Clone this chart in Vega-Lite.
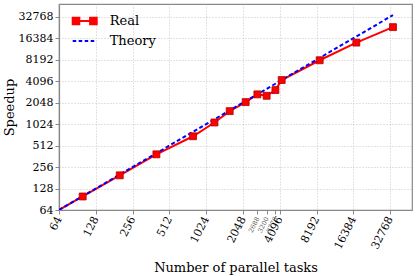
{
  "$schema": "https://vega.github.io/schema/vega-lite/v6.json",
  "autosize": "none",
  "width": 353,
  "height": 206,
  "padding": {"left": 59, "top": 4, "right": 4, "bottom": 66},
  "background": "white",
  "config": {
    "font": "DejaVu Serif",
    "view": {"stroke": "#888888", "strokeWidth": 1.2},
    "axis": {
      "domainColor": "#888888",
      "domainWidth": 1.2,
      "tickColor": "#888888",
      "tickSize": 4,
      "labelFont": "DejaVu Serif",
      "titleFont": "DejaVu Serif",
      "labelColor": "#000000",
      "titleColor": "#000000",
      "titleFontWeight": "normal",
      "gridColor": "#b8b8b8",
      "gridDash": [1, 2],
      "gridWidth": 0.8
    },
    "legend": {"labelFont": "DejaVu Serif"}
  },
  "data": {
    "values": [
      {"tasks": 64, "speedup": 64, "series": "Real"},
      {"tasks": 100, "speedup": 99, "series": "Real"},
      {"tasks": 201, "speedup": 196, "series": "Real"},
      {"tasks": 401, "speedup": 386, "series": "Real"},
      {"tasks": 800, "speedup": 692, "series": "Real"},
      {"tasks": 1197, "speedup": 1080, "series": "Real"},
      {"tasks": 1595, "speedup": 1557, "series": "Real"},
      {"tasks": 2156, "speedup": 2085, "series": "Real"},
      {"tasks": 2688, "speedup": 2676, "series": "Real"},
      {"tasks": 3200, "speedup": 2556, "series": "Real"},
      {"tasks": 3776, "speedup": 3076, "series": "Real"},
      {"tasks": 4250, "speedup": 4252, "series": "Real"},
      {"tasks": 8690, "speedup": 8050, "series": "Real"},
      {"tasks": 17340, "speedup": 14240, "series": "Real"},
      {"tasks": 34600, "speedup": 23460, "series": "Real"},
      {"tasks": 64, "speedup": 64, "series": "Theory"},
      {"tasks": 34600, "speedup": 34600, "series": "Theory"}
    ]
  },
  "encoding": {
    "x": {
      "field": "tasks",
      "type": "quantitative",
      "scale": {"type": "log", "base": 2, "domain": [64, 49500], "nice": false},
      "axis": {
        "title": "Number of parallel tasks",
        "titleFontSize": 13,
        "titleBaseline": "alphabetic",
        "titleY": 61,
        "values": [64, 128, 256, 512, 1024, 2048, 2688, 3200, 3776, 4096, 8192, 16384, 32768],
        "format": "d",
        "labelAngle": -63,
        "labelAlign": "right",
        "labelBaseline": "middle",
        "labelPadding": 3,
        "labelOverlap": false,
        "labelFontSize": {"expr": "indexof([2688, 3200, 3776], datum.value) >= 0 ? 6.5 : 11"},
        "labelColor": {"expr": "indexof([2688, 3200, 3776], datum.value) >= 0 ? '#555555' : '#000000'"},
        "gridOpacity": {"expr": "indexof([2688, 3200, 3776], datum.value) >= 0 ? 0 : 1"}
      }
    },
    "y": {
      "field": "speedup",
      "type": "quantitative",
      "scale": {"type": "log", "base": 2, "domain": [64, 49500], "nice": false},
      "axis": {
        "title": "Speedup",
        "titleFontSize": 13,
        "titleX": -50,
        "titleY": 103,
        "titleAngle": -90,
        "titleAlign": "center",
        "titleBaseline": "middle",
        "values": [64, 128, 256, 512, 1024, 2048, 4096, 8192, 16384, 32768],
        "format": "d",
        "labelFontSize": 11,
        "labelPadding": 2,
        "labelOverlap": false
      }
    }
  },
  "layer": [
    {
      "transform": [{"filter": "datum.series === 'Real'"}],
      "mark": {"type": "line", "strokeWidth": 2, "clip": true},
      "encoding": {
        "color": {
          "field": "series",
          "type": "nominal",
          "scale": {"domain": ["Real", "Theory"], "range": ["#ff0000", "#0000ff"]},
          "legend": {
            "title": null,
            "orient": "none",
            "legendX": 18.7,
            "legendY": 10,
            "padding": 0,
            "symbolSize": 144,
            "labelFontSize": 13,
            "labelOffset": 18,
            "rowPadding": 5,
            "encode": {
              "symbols": {
                "update": {
                  "shape": {"signal": "datum.value === 'Real' ? 'M-2,-0.55H-0.9V0.55H-2Z M0.9,-0.55H2V0.55H0.9Z M-1.5,0H1.5' : 'M-2,0H2'"},
                  "fill": {"signal": "datum.value === 'Real' ? '#ff0000' : 'transparent'"},
                  "stroke": {"signal": "datum.value === 'Real' ? '#ff0000' : '#0000ff'"},
                  "strokeDash": {"signal": "datum.value === 'Theory' ? [3.5, 2.5] : [1, 0]"},
                  "strokeWidth": {"value": 2},
                  "opacity": {"value": 1}
                }
              }
            }
          }
        }
      }
    },
    {
      "transform": [{"filter": "datum.series === 'Theory'"}],
      "mark": {"type": "line", "strokeWidth": 2, "strokeDash": [4, 2.5], "clip": true},
      "encoding": {
        "color": {"field": "series", "type": "nominal"}
      }
    },
    {
      "transform": [{"filter": "datum.series === 'Real' && datum.tasks > 64"}],
      "mark": {"type": "point", "shape": "square", "filled": true, "size": 48, "color": "#ff0000", "stroke": "#b00000", "strokeWidth": 0.8, "opacity": 1},
      "encoding": {}
    }
  ]
}
